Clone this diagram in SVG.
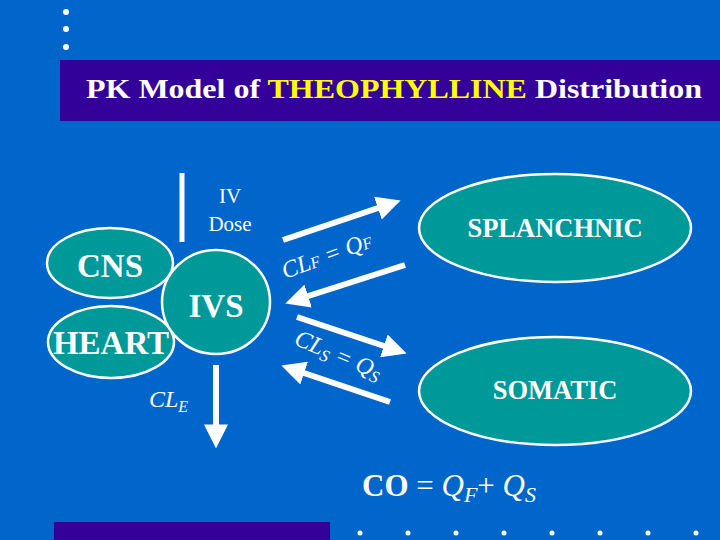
<svg xmlns="http://www.w3.org/2000/svg" width="720" height="540" viewBox="0 0 720 540">
<style>
.node{fill:#009999;stroke:#ffffff;stroke-width:2.5}
.lbl{fill:#ffffff;text-anchor:middle}
.it{fill:#ffffff;font-style:italic}
.ar{stroke:#ffffff;stroke-width:6;fill:none}
.dot{fill:#ffffff}
</style>
<defs>
<marker id="ah" markerWidth="4" markerHeight="4" refX="1.6" refY="2" orient="auto" markerUnits="strokeWidth" viewBox="0 0 4 4">
<path d="M0,0 L4,2 L0,4 Z" fill="#ffffff"/>
</marker>
</defs>
<rect width="720" height="540" fill="#0066cc"/>
<g id="decor">
<circle class="dot" cx="66" cy="12" r="3"/>
<circle class="dot" cx="66" cy="29" r="3"/>
<circle class="dot" cx="66" cy="47" r="3"/>
<rect x="60" y="60" width="660" height="61" fill="#330099"/>
<rect x="54" y="522" width="276" height="18" fill="#330099"/>
<circle class="dot" cx="360" cy="533" r="2.5"/>
<circle class="dot" cx="408" cy="533" r="2.5"/>
<circle class="dot" cx="456" cy="533" r="2.5"/>
<circle class="dot" cx="504" cy="533" r="2.5"/>
<circle class="dot" cx="552" cy="533" r="2.5"/>
<circle class="dot" cx="600" cy="533" r="2.5"/>
<circle class="dot" cx="648" cy="533" r="2.5"/>
<circle class="dot" cx="696" cy="533" r="2.5"/>
</g>
<g font-family="Liberation Serif, DejaVu Serif, serif">
<text id="title" x="86" y="98" fill="#ffffff" font-size="27" font-weight="bold" textLength="616" lengthAdjust="spacingAndGlyphs">PK Model of <tspan fill="#ffff00">THEOPHYLLINE</tspan> Distribution</text>
<g id="connectors">
<line x1="182" y1="173" x2="182" y2="242" stroke="#ffffff" stroke-width="5"/>
<line class="ar" x1="216" y1="365" x2="216" y2="434" marker-end="url(#ah)"/>
<line class="ar" x1="283" y1="240" x2="387" y2="205" marker-end="url(#ah)"/>
<line class="ar" x1="405" y1="265" x2="299" y2="299" marker-end="url(#ah)"/>
<line class="ar" x1="297" y1="317" x2="393" y2="349" marker-end="url(#ah)"/>
<line class="ar" x1="390" y1="402" x2="295" y2="370" marker-end="url(#ah)"/>
</g>
<g id="labels">
<text x="230" y="203" class="lbl" font-size="21">IV</text>
<text x="230" y="231" class="lbl" font-size="21">Dose</text>
<text x="149" y="407" class="it" font-size="24">CL<tspan font-size="16" dy="5">E</tspan></text>
<text transform="translate(285,279) rotate(-20)" class="it" font-size="24">CL<tspan font-size="16">F</tspan> = Q<tspan font-size="16">F</tspan></text>
<text transform="translate(293,344) rotate(23)" class="it" font-size="24">CL<tspan font-size="17" dy="4">S</tspan><tspan dy="-4"> = Q</tspan><tspan font-size="17" dy="4">S</tspan></text>
<text x="362" y="496" font-size="31" fill="#ffffff"><tspan font-weight="bold">CO</tspan> = <tspan font-style="italic">Q</tspan><tspan font-style="italic" font-size="22" dy="6">F</tspan><tspan dy="-6">+ </tspan><tspan font-style="italic">Q</tspan><tspan font-style="italic" font-size="22" dy="6">S</tspan></text>
</g>
<g id="cns">
<ellipse class="node" cx="110" cy="263" rx="63" ry="35"/>
<text x="110" y="277" class="lbl" font-size="33" font-weight="bold">CNS</text>
</g>
<g id="heart">
<ellipse class="node" cx="111" cy="342" rx="63" ry="36"/>
<text x="111" y="354" class="lbl" font-size="33" font-weight="bold">HEART</text>
</g>
<g id="ivs">
<ellipse class="node" cx="216" cy="302" rx="54" ry="52"/>
<text x="216" y="317" class="lbl" font-size="33" font-weight="bold">IVS</text>
</g>
<g id="splanchnic">
<ellipse class="node" cx="555" cy="228" rx="136" ry="54"/>
<text x="555" y="237" class="lbl" font-size="26.5" font-weight="bold">SPLANCHNIC</text>
</g>
<g id="somatic">
<ellipse class="node" cx="555" cy="391" rx="136" ry="54"/>
<text x="555" y="399" class="lbl" font-size="26.5" font-weight="bold">SOMATIC</text>
</g>
</g>
</svg>
